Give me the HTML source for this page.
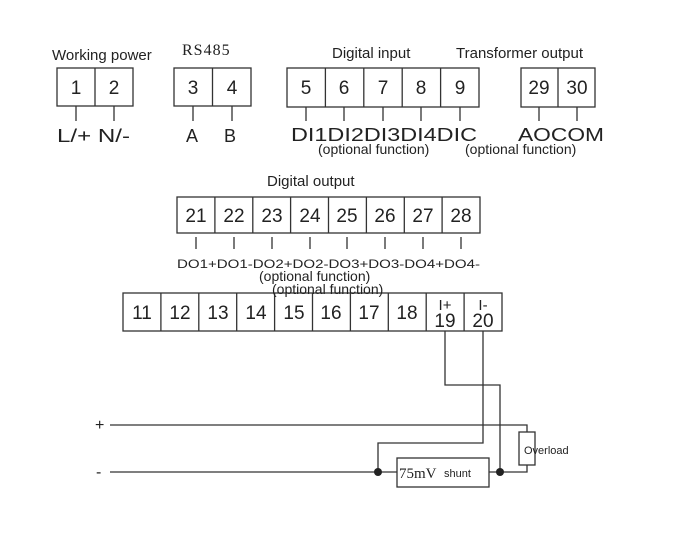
<!DOCTYPE html>
<html><head><meta charset="utf-8"><style>
body{margin:0;background:#fff}
svg text{font-family:"Liberation Sans",sans-serif;fill:#222}
</style></head><body>
<svg width="687" height="547" viewBox="0 0 687 547" xmlns="http://www.w3.org/2000/svg">
<g fill="none" stroke="#333" stroke-width="1.3">
<rect x="57" y="68" width="76" height="38"/><line x1="95" y1="68" x2="95" y2="106"/>
<rect x="174" y="68" width="77" height="38"/><line x1="212.5" y1="68" x2="212.5" y2="106"/>
<rect x="287" y="68" width="192" height="39"/>
<line x1="325.4" y1="68" x2="325.4" y2="107"/><line x1="363.8" y1="68" x2="363.8" y2="107"/><line x1="402.2" y1="68" x2="402.2" y2="107"/><line x1="440.6" y1="68" x2="440.6" y2="107"/>
<rect x="521" y="68" width="74" height="39"/><line x1="558" y1="68" x2="558" y2="107"/>
<path d="M76 106V121M114 106V121M193 106V121M232 106V121M306 107V121M344 107V121M383 107V121M421 107V121M460 107V121M539 107V121M577 107V121"/>
<rect x="177" y="197" width="303" height="36"/>
<path d="M214.9 197V233M252.8 197V233M290.6 197V233M328.5 197V233M366.4 197V233M404.3 197V233M442.1 197V233"/>
<path d="M196 237V249M234 237V249M272 237V249M310 237V249M347 237V249M385 237V249M423 237V249M461 237V249"/>
<rect x="123" y="293" width="379" height="38"/>
<path d="M160.9 293V331M198.8 293V331M236.7 293V331M274.6 293V331M312.5 293V331M350.4 293V331M388.3 293V331M426.2 293V331M464.1 293V331"/>
<path d="M445 331V385H500V472"/>
<path d="M483 331V443H378V472"/>
<path d="M110 425H527V432"/>
<rect x="519" y="432" width="16" height="33"/>
<path d="M527 465V472H500"/>
<path d="M110 472H397M489 472H500"/>
<rect x="397" y="458" width="92" height="29"/>
</g>
<circle cx="378" cy="472" r="4" fill="#222"/><circle cx="500" cy="472" r="4" fill="#222"/>
<g font-size="15">
<text x="52" y="60">Working power</text>
<text x="332" y="58">Digital input</text>
<text x="456" y="58">Transformer output</text>
<text x="267" y="186">Digital output</text>
</g>
<text x="182" y="55" font-size="16" style="font-family:'Liberation Serif',serif;letter-spacing:1px">RS485</text>
<g font-size="19" text-anchor="middle">
<text x="76" y="94">1</text><text x="114" y="94">2</text>
<text x="193" y="94">3</text><text x="232" y="94">4</text>
<text x="306" y="94">5</text><text x="344" y="94">6</text><text x="383" y="94">7</text><text x="421" y="94">8</text><text x="460" y="94">9</text>
<text x="539" y="94">29</text><text x="577" y="94">30</text>
<text x="196" y="222">21</text><text x="234" y="222">22</text><text x="272" y="222">23</text><text x="310" y="222">24</text><text x="347" y="222">25</text><text x="385" y="222">26</text><text x="423" y="222">27</text><text x="461" y="222">28</text>
<text x="142" y="319">11</text><text x="180" y="319">12</text><text x="218" y="319">13</text><text x="256" y="319">14</text><text x="294" y="319">15</text><text x="331" y="319">16</text><text x="369" y="319">17</text><text x="407" y="319">18</text>
<text x="445" y="327">19</text><text x="483" y="327">20</text>
</g>
<g font-size="15" text-anchor="middle"><text x="445" y="310">I+</text><text x="483" y="310">I-</text></g>
<g font-size="18">
<text x="57" y="142" textLength="73" lengthAdjust="spacingAndGlyphs">L/+ N/-</text>
<text x="186" y="142">A</text><text x="224" y="142">B</text>
<text x="291" y="141" textLength="186" lengthAdjust="spacingAndGlyphs">DI1DI2DI3DI4DIC</text>
<text x="518" y="141" textLength="86" lengthAdjust="spacingAndGlyphs">AOCOM</text>
</g>
<g font-size="14">
<text x="318" y="154">(optional function)</text>
<text x="465" y="154">(optional function)</text>
<text x="259" y="281">(optional function)</text>
<text x="272" y="294">(optional function)</text>
</g>
<text x="177" y="268" font-size="11.5" textLength="303" lengthAdjust="spacingAndGlyphs">DO1+DO1-DO2+DO2-DO3+DO3-DO4+DO4-</text>
<text x="95" y="430" font-size="16">+</text>
<text x="96" y="477" font-size="16">-</text>
<text x="399" y="478" font-size="15" style="font-family:'Liberation Serif',serif">75mV</text>
<text x="444" y="477" font-size="11">shunt</text>
<text x="524" y="454" font-size="11">Overload</text>
</svg>
</body></html>
